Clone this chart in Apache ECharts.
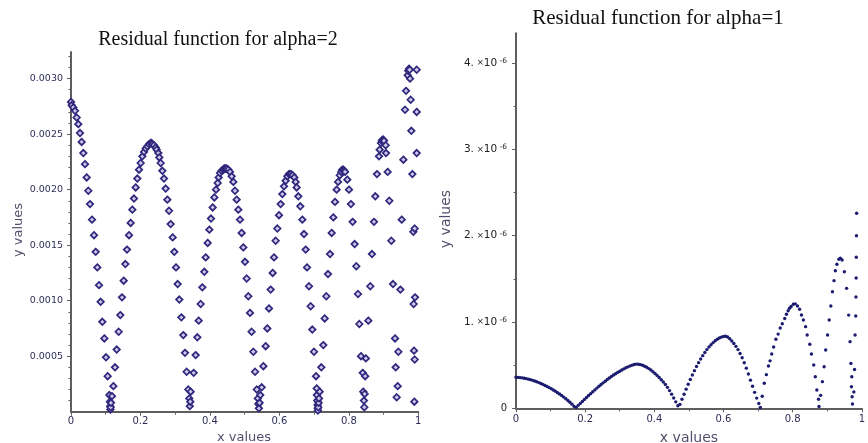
<!DOCTYPE html>
<html><head><meta charset="utf-8">
<script src="https://cdn.jsdelivr.net/npm/echarts@6/dist/echarts.min.js"></script>
<style>html,body{margin:0;padding:0;background:#fff;}#c{width:868px;height:443px;}</style>
</head><body><div id="c"></div>
<script>
// ---- data ----
const titles = ['Residual function for alpha=2', 'Residual function for alpha=1'];
const axisNames = ['x values', 'y values'];
const xTickValues = [0, 0.2, 0.4, 0.6, 0.8, 1];
const leftYTickValues = [0.0005, 0.001, 0.0015, 0.002, 0.0025, 0.003];
const leftYMinorValues = [0.0001,0.0002,0.0003,0.0004,0.0006,0.0007,0.0008,0.0009,0.0011,0.0012,0.0013,0.0014,0.0016,0.0017,0.0018,0.0019,0.0021,0.0022,0.0023,0.0024,0.0026,0.0027,0.0028,0.0029,0.0031,0.0032];
const rightYTickValues = [0, 1, 2, 3, 4];          // in units of 10^-6
const rightYMinorValues = [0.5, 1.5, 2.5, 3.5];

// alpha = 2 residual (x, y)
const leftPoints = [
[0,0.00279],[0.002,0.00276],[0.0067,0.00274],[0.0115,0.00271],[0.0163,0.00265],[0.0211,0.00259],[0.0259,0.00251],[0.0307,0.00243],[0.0355,0.00233],[0.0403,0.00223],
[0.0451,0.00211],[0.0499,0.00199],[0.0547,0.00187],[0.0605,0.00173],[0.0662,0.00159],[0.071,0.00144],[0.0758,0.0013],[0.0806,0.00114],[0.0854,0.00099],[0.0902,0.00081],
[0.096,0.00066],[0.1008,0.00049],[0.1056,0.00032],[0.1104,0.00015],[0.112,0.00009],[0.1128,0.00005],[0.1135,0.00002],[0.1142,0.00004],[0.115,0.00008],[0.118,0.00014],
[0.122,0.00023],[0.1267,0.0004],[0.1316,0.00056],[0.1373,0.00072],[0.142,0.00087],[0.1468,0.00103],[0.1517,0.00118],[0.1565,0.00133],[0.1612,0.00146],[0.167,0.00159],
[0.1718,0.0017],[0.1766,0.00182],[0.1814,0.00192],[0.1862,0.00202],[0.191,0.0021],[0.1958,0.00218],[0.2006,0.00224],[0.2054,0.0023],[0.2102,0.00234],[0.215,0.00237],
[0.2198,0.00239],[0.2246,0.00241],[0.2294,0.00242],[0.232,0.00242],[0.2342,0.00241],[0.239,0.0024],[0.2438,0.00238],[0.2467,0.00236],[0.2515,0.00233],[0.2543,0.00229],
[0.2582,0.00224],[0.263,0.00217],[0.2678,0.0021],[0.2726,0.00201],[0.2774,0.00191],[0.2822,0.00181],[0.287,0.00169],[0.2927,0.00157],[0.2975,0.00144],[0.3023,0.0013],
[0.3071,0.00115],[0.3119,0.00101],[0.3177,0.00085],[0.3234,0.00069],[0.3282,0.00053],[0.333,0.00036],[0.3378,0.0002],[0.3405,0.00012],[0.342,0.00005],[0.3435,0.00009],
[0.3445,0.00018],[0.3532,0.00035],[0.359,0.00051],[0.3638,0.00067],[0.3676,0.00082],[0.3734,0.00097],[0.3782,0.00112],[0.3839,0.00126],[0.3878,0.00139],[0.3935,0.00152],
[0.3983,0.00164],[0.4031,0.00174],[0.4079,0.00184],[0.4127,0.00193],[0.4175,0.002],[0.4223,0.00206],[0.4252,0.00211],[0.429,0.00215],[0.4338,0.00217],[0.4386,0.00218],
[0.441,0.00219],[0.4434,0.00219],[0.4458,0.00219],[0.4482,0.00219],[0.453,0.00218],[0.4578,0.00216],[0.4626,0.00212],[0.4674,0.00207],[0.4722,0.00199],[0.477,0.00191],
[0.4818,0.00182],[0.4866,0.00173],[0.4914,0.00161],[0.4962,0.00148],[0.501,0.00135],[0.5058,0.0012],[0.5106,0.00104],[0.5154,0.00089],[0.52,0.00072],[0.525,0.00054],
[0.53,0.00036],[0.535,0.0002],[0.538,0.00012],[0.5395,0.00007],[0.541,0.00003],[0.543,0.00008],[0.545,0.00015],[0.549,0.00022],[0.5538,0.00041],[0.5605,0.00059],
[0.5653,0.00075],[0.5701,0.00093],[0.5749,0.0011],[0.5807,0.00125],[0.5845,0.00139],[0.5893,0.00154],[0.5941,0.00165],[0.5989,0.00177],[0.6037,0.00187],[0.6085,0.00196],
[0.6133,0.00203],[0.6181,0.00208],[0.6229,0.00212],[0.6277,0.00214],[0.63,0.00214],[0.6335,0.00214],[0.6383,0.00213],[0.643,0.00211],[0.6469,0.00207],[0.6498,0.00202],
[0.6546,0.00194],[0.6603,0.00185],[0.6661,0.00173],[0.6709,0.0016],[0.6757,0.00146],[0.6795,0.0013],[0.6853,0.00113],[0.6901,0.00095],[0.6949,0.00074],[0.6997,0.00054],
[0.7055,0.00032],[0.7074,0.00021],[0.708,0.00015],[0.709,0.0001],[0.71,0.00006],[0.7105,0.00003],[0.711,0.00001],[0.712,0.00004],[0.713,0.00008],[0.7141,0.00012],
[0.716,0.00018],[0.7208,0.0004],[0.7265,0.0006],[0.7304,0.00084],[0.7352,0.00104],[0.74,0.00124],[0.7458,0.00142],[0.7506,0.00161],[0.7553,0.00175],[0.7601,0.00189],
[0.7649,0.002],[0.769,0.00207],[0.774,0.00213],[0.778,0.00216],[0.781,0.00218],[0.784,0.00218],[0.786,0.00217],[0.789,0.00216],[0.7956,0.00209],[0.8004,0.002],
[0.806,0.00187],[0.8109,0.00171],[0.8167,0.00151],[0.8215,0.00131],[0.8264,0.00106],[0.8302,0.00079],[0.835,0.0005],[0.84,0.00035],[0.8415,0.00018],[0.8435,0.0001],
[0.8445,0.00004],[0.8455,0.00016],[0.847,0.00032],[0.849,0.00048],[0.8561,0.00082],[0.8618,0.00113],[0.8666,0.00142],[0.8724,0.00171],[0.8762,0.00194],[0.881,0.00214],
[0.8868,0.0023],[0.8887,0.00236],[0.8925,0.00242],[0.895,0.00244],[0.8973,0.00245],[0.899,0.00245],[0.9012,0.00244],[0.906,0.0024],[0.907,0.00233],[0.9118,0.00216],
[0.9166,0.0019],[0.9224,0.00154],[0.9272,0.00115],[0.933,0.00066],[0.9349,0.0004],[0.9378,0.00013],[0.9406,0.00023],[0.9426,0.00054],[0.9484,0.0011],[0.9522,0.00173],
[0.957,0.00227],[0.9618,0.00272],[0.9647,0.00289],[0.9695,0.00303],[0.971,0.00307],[0.9733,0.00309],[0.975,0.00308],[0.9762,0.003],[0.9781,0.00281],[0.98,0.00253],
[0.9829,0.00214],[0.9856,0.00162],[0.9866,0.00097],[0.9876,0.00055],[0.9886,0.00009],[0.9896,0.00047],[0.9906,0.00103],[0.9896,0.00165],[0.9954,0.00233],[0.9954,0.0027],
[0.9954,0.00308]
];

// alpha = 1 residual (x, y in units of 10^-6)
const rightPoints = [
[0,0.359],[0.006,0.358],[0.012,0.356],[0.018,0.353],[0.024,0.349],[0.03,0.344],[0.036,0.338],[0.042,0.332],[0.048,0.324],[0.054,0.316],
[0.06,0.307],[0.066,0.298],[0.072,0.288],[0.078,0.277],[0.084,0.265],[0.09,0.252],[0.096,0.24],[0.102,0.226],[0.108,0.212],[0.114,0.197],
[0.12,0.181],[0.126,0.165],[0.132,0.148],[0.138,0.13],[0.144,0.111],[0.15,0.091],[0.156,0.07],[0.162,0.048],[0.168,0.022],
[0.174,0.011],[0.18,0.034],[0.186,0.057],[0.192,0.08],[0.198,0.103],[0.204,0.126],[0.21,0.148],[0.216,0.17],[0.222,0.192],[0.228,0.213],
[0.234,0.234],[0.24,0.255],[0.246,0.275],[0.252,0.295],[0.258,0.314],[0.264,0.333],[0.27,0.351],[0.276,0.368],[0.282,0.385],[0.288,0.401],
[0.294,0.416],[0.3,0.43],[0.306,0.444],[0.312,0.457],[0.318,0.469],[0.324,0.48],[0.33,0.491],[0.336,0.5],[0.342,0.508],[0.348,0.512],
[0.354,0.511],[0.36,0.506],[0.366,0.498],[0.372,0.488],[0.378,0.475],[0.384,0.46],[0.39,0.443],[0.396,0.424],[0.402,0.403],[0.408,0.381],
[0.414,0.357],[0.42,0.331],[0.426,0.304],[0.432,0.275],[0.438,0.243],[0.444,0.205],[0.45,0.164],[0.456,0.12],[0.462,0.075],[0.468,0.03],
[0.474,0.045],[0.48,0.105],[0.486,0.163],[0.492,0.222],[0.498,0.278],[0.504,0.333],[0.51,0.386],[0.516,0.436],[0.522,0.484],[0.528,0.529],
[0.534,0.571],[0.54,0.61],[0.546,0.646],[0.552,0.68],[0.558,0.71],[0.564,0.737],[0.57,0.761],[0.576,0.782],[0.582,0.8],[0.588,0.814],
[0.594,0.825],[0.6,0.832],[0.606,0.834],[0.612,0.826],[0.618,0.806],[0.624,0.78],[0.63,0.75],[0.636,0.718],[0.642,0.68],[0.648,0.635],
[0.654,0.585],[0.66,0.528],[0.666,0.465],[0.672,0.397],[0.678,0.326],[0.684,0.255],[0.69,0.185],[0.696,0.118],[0.702,0.055],
[0.7065,0.01],[0.712,0.14],[0.718,0.29],[0.724,0.39],[0.73,0.49],[0.7347,0.55],[0.7395,0.63],[0.745,0.71],[0.7515,0.8],[0.758,0.86],
[0.764,0.93],[0.77,0.98],[0.777,1.04],[0.782,1.09],[0.787,1.13],[0.791,1.16],[0.7955,1.18],[0.802,1.205],[0.8076,1.21],[0.814,1.185],
[0.82,1.147],[0.8255,1.081],[0.831,1.023],[0.8375,0.946],[0.842,0.849],[0.8496,0.742],[0.8543,0.629],[0.861,0.502],[0.8655,0.366],[0.87,0.212],
[0.8749,0.104],[0.8762,0.02],
[0.881,0.15],[0.886,0.309],[0.891,0.482],[0.8955,0.676],[0.901,0.85],[0.9056,1.023],[0.9104,1.185],[0.915,1.351],[0.9196,1.479],[0.9235,1.594],
[0.928,1.669],[0.9336,1.727],[0.938,1.738],[0.943,1.718],[0.9496,1.583],[0.956,1.39],[0.962,1.08],[0.966,0.772],[0.9684,0.52],[0.971,0.366],
[0.97,0.25],[0.972,0.134],[0.973,0.05],
[0.977,0.19],[0.979,0.45],[0.9805,0.85],[0.9825,1.07],[0.983,1.29],[0.9835,1.51],[0.984,1.75],[0.9845,2.0],[0.985,2.26]
];

// ---- chart ----
const axisColor = '#5e5e5e';
const labelColor = '#2e2e58';
const sans = 'DejaVu Sans';

function xAxisCfg(gridIndex, fs, margin) {
  return {
    type: 'value', gridIndex, min: 0, max: 1, interval: 0.2,
    axisLine: { show: true, onZero: false, lineStyle: { color: axisColor, width: 2 } },
    axisTick: { show: true, length: 4, lineStyle: { color: axisColor, width: 1 } },
    minorTick: { show: true, splitNumber: 2, length: 3, lineStyle: { color: axisColor, width: 1 } },
    splitLine: { show: false }, minorSplitLine: { show: false },
    axisLabel: { color: labelColor, fontFamily: sans, fontSize: fs, margin,
      customValues: xTickValues, formatter: v => String(Math.round(v * 10) / 10) }
  };
}

const chart = echarts.init(document.getElementById('c'), null, { renderer: 'canvas' });
chart.setOption({
  animation: false,
  backgroundColor: '#ffffff',
  grid: [
    { left: 71, top: 52, width: 347.3, height: 359.7 },
    { left: 516, top: 33.3, width: 357, height: 375 }
  ],
  xAxis: [ xAxisCfg(0, 10, 5), xAxisCfg(1, 10, 6) ],
  yAxis: [
    { type: 'value', gridIndex: 0, position: 'left', min: 0, max: 0.00324,
      axisLine: { show: true, onZero: false, lineStyle: { color: axisColor, width: 2 } },
      axisTick: { show: true, length: 4, customValues: leftYTickValues, lineStyle: { color: axisColor } },
      splitLine: { show: false },
      axisLabel: { color: labelColor, fontFamily: sans, fontSize: 9.5, margin: 8,
        customValues: leftYTickValues, formatter: v => v.toFixed(4) } },
    { type: 'value', gridIndex: 0, position: 'left', min: 0, max: 0.00324,
      axisLine: { show: false }, splitLine: { show: false }, axisLabel: { show: false },
      axisTick: { show: true, length: 2.5, customValues: leftYMinorValues, lineStyle: { color: axisColor } } },
    { type: 'value', gridIndex: 1, position: 'left', min: 0, max: 4.345,
      axisLine: { show: true, onZero: false, lineStyle: { color: axisColor, width: 2 } },
      axisTick: { show: true, length: 4, customValues: rightYTickValues, lineStyle: { color: axisColor } },
      splitLine: { show: false },
      axisLabel: { color: '#222', fontFamily: sans, fontSize: 10, margin: 9,
        customValues: rightYTickValues,
        formatter: v => v === 0 ? '0' : '{n|' + v + '.}{m| ×}{n|10}{e| -6}',
        rich: {
          n: { fontFamily: sans, fontSize: 10.5, color: '#222' },
          m: { fontFamily: sans, fontSize: 8.5, color: '#222' },
          e: { fontFamily: sans, fontSize: 7.5, color: '#222', verticalAlign: 'top', padding: [0, 0, 4, 0] }
        } } },
    { type: 'value', gridIndex: 1, position: 'left', min: 0, max: 4.345,
      axisLine: { show: false }, splitLine: { show: false }, axisLabel: { show: false },
      axisTick: { show: true, length: 2.5, customValues: rightYMinorValues, lineStyle: { color: axisColor } } }
  ],
  series: [
    { type: 'scatter', xAxisIndex: 0, yAxisIndex: 0, data: leftPoints, clip: false,
      symbol: 'diamond', symbolSize: 6.5,
      itemStyle: { color: '#cdc9ea', borderColor: '#30267c', borderWidth: 1.7, opacity: 1 } },
    { type: 'scatter', xAxisIndex: 1, yAxisIndex: 2, data: rightPoints, clip: false,
      symbol: 'circle', symbolSize: 3.4,
      itemStyle: { color: '#1b1b70', opacity: 1 } }
  ],
  graphic: [
    { type: 'text', x: 218, y: 40, style: { text: titles[0], font: '20px "Liberation Serif"', fill: '#111', align: 'center', verticalAlign: 'middle' } },
    { type: 'text', x: 658, y: 18, style: { text: titles[1], font: '21px "Liberation Serif"', fill: '#111', align: 'center', verticalAlign: 'middle' } },
    { type: 'text', x: 244, y: 438, style: { text: axisNames[0], font: '13px "DejaVu Sans"', fill: '#50506e', align: 'center', verticalAlign: 'middle' } },
    { type: 'text', x: 689, y: 438, style: { text: axisNames[0], font: '14px "DejaVu Sans"', fill: '#50506e', align: 'center', verticalAlign: 'middle' } },
    { type: 'text', x: 19, y: 230, rotation: Math.PI / 2, style: { text: axisNames[1], font: '13px "DejaVu Sans"', fill: '#50506e', align: 'center', verticalAlign: 'middle' } },
    { type: 'text', x: 446, y: 219, rotation: Math.PI / 2, style: { text: axisNames[1], font: '14px "DejaVu Sans"', fill: '#50506e', align: 'center', verticalAlign: 'middle' } }
  ]
});
</script>
</body></html>
